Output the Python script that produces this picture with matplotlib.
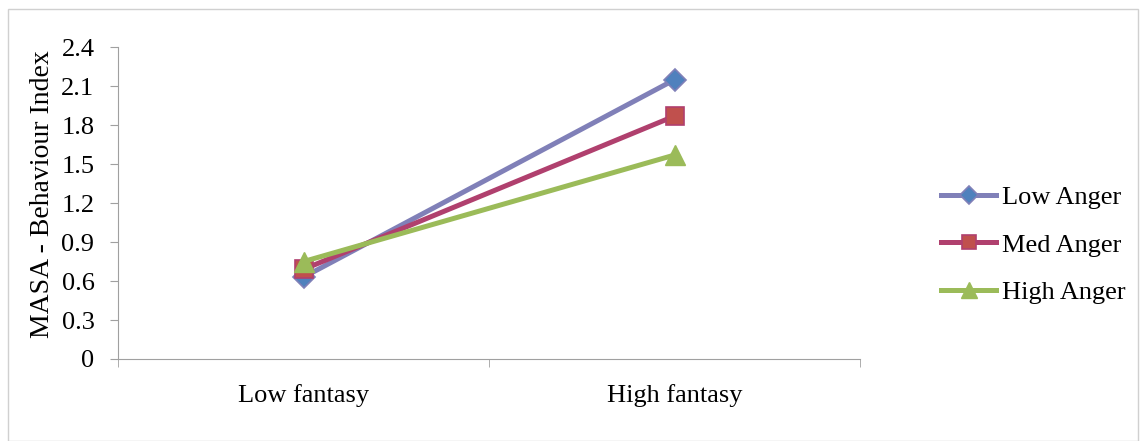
import matplotlib
matplotlib.use("Agg")
import matplotlib.pyplot as plt
from matplotlib.patches import Rectangle

categories = ["Low fantasy", "High fantasy"]
low_anger = [0.63, 2.15]
med_anger = [0.69, 1.87]
high_anger = [0.75, 1.57]
y_ticks = [0, 0.3, 0.6, 0.9, 1.2, 1.5, 1.8, 2.1, 2.4]
y_tick_labels = ["0", "0.3", "0.6", "0.9", "1.2", "1.5", "1.8", "2.1", "2.4"]

plt.rcParams["font.family"] = ["Liberation Serif", "DejaVu Serif"]

fig = plt.figure(figsize=(11.47, 4.41), dpi=100)
fig.patches.append(Rectangle((0.007, 0.0), 0.985, 0.98, transform=fig.transFigure,
                             fill=False, edgecolor="#d0d0d0", linewidth=1))
ax = fig.add_axes([0.1029, 0.186, 0.647, 0.707])

x = list(range(len(categories)))
ax.plot(x, low_anger, color="#8080b8", linewidth=3.6, marker="D", markersize=11,
        markerfacecolor="#4f81bd", markeredgecolor="#8080b8", markeredgewidth=1.2,
        label="Low Anger")
ax.plot(x, med_anger, color="#b0406e", linewidth=3.6, marker="s", markersize=13,
        markerfacecolor="#c0504d", markeredgecolor="#b0406e", markeredgewidth=1.2,
        label="Med Anger")
ax.plot(x, high_anger, color="#9bbb59", linewidth=3.6, marker="^", markersize=15,
        markerfacecolor="#9bbb59", markeredgecolor="#9bbb59",
        label="High Anger")

ax.set_xlim(-0.5, 1.5)
ax.set_ylim(0, 2.4)
ax.set_yticks(y_ticks)
ax.set_yticklabels(y_tick_labels, fontsize=19)
ax.set_xticks(x)
ax.set_xticklabels(categories, fontsize=19)
ax.set_xticks([-0.5, 0.5, 1.5], minor=True)
ax.tick_params(axis="x", which="major", length=0, pad=18)
ax.tick_params(axis="x", which="minor", length=6, color="#a0a0a0", direction="out")
ax.tick_params(axis="y", length=6, color="#a0a0a0", direction="out", pad=11)
ax.set_ylabel("MASA - Behaviour Index", fontsize=20)
ax.yaxis.set_label_coords(-0.085, 0.53)

for side in ["top", "right"]:
    ax.spines[side].set_visible(False)
for side in ["left", "bottom"]:
    ax.spines[side].set_color("#a0a0a0")

leg = ax.legend(loc="center left", bbox_to_anchor=(1.077, 0.366), frameon=False,
                fontsize=19, handlelength=2.1, handletextpad=0.2, labelspacing=0.92,
                markerscale=0.8)

fig.savefig("out.png", dpi=100)
plt.close(fig)
